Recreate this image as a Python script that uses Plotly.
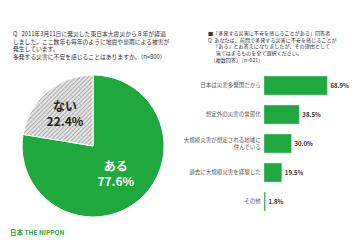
import plotly.graph_objects as go

pie_labels = ["ある", "ない"]
pie_values = [77.6, 22.4]

bar_categories = ["日本は災害多発国だから", "想定外の災害の常態化", "大規模災害が想定される地域に<br>住んでいる",
                  "過去に大規模災害を経験した", "その他"]
bar_values = [68.9, 38.5, 30.0, 19.5, 1.8]

left_lines = ["Q\u2002 2011年3月11日に発災した東日本大震災から８年が経過",
              "しました。ここ数年も毎年のように地震や豪雨による被害が",
              "発生しています。",
              "多発する災害に不安を感じることはありますか。（n=800）"]
right_lines = ["■「多発する災害に不安を感じることがある」回答者",
               "Q\u2002あなたは、前問で多発する災害に不安を感じることが",
               "\u2002\u2002「ある」とお答えになりましたが、その理由として",
               "\u2002\u2002\u2002当てはまるものを全て選択ください。",
               "\u2002（複数回答）（n=621）"]

GREEN = "#1fa83e"
FONT = "Noto Sans CJK JP"

fig = go.Figure()

fig.add_trace(go.Pie(
    labels=pie_labels, values=pie_values, sort=False, direction="clockwise", rotation=0,
    domain=dict(x=[0.061, 0.456], y=[0.096, 0.6875]),
    marker=dict(colors=[GREEN, "#e4e4e4"], line=dict(color="white", width=1),
                pattern=dict(shape=["", "/"], fgcolor="#9a9a9a", bgcolor="#e8e8e8", size=3, solidity=0.3)),
    text=[f"{l}<br>{v:.1f}%" for l, v in zip(pie_labels, pie_values)],
    textinfo="text", textposition="inside", insidetextorientation="horizontal",
    insidetextfont=dict(family=FONT, size=12, color=["white", "#222222"], weight="bold"),
    hoverinfo="skip", showlegend=False,
))

fig.add_trace(go.Bar(
    x=bar_values, y=bar_categories, orientation="h", marker=dict(color=GREEN),
    text=[f"{v:.1f}%" for v in bar_values], textposition="outside", cliponaxis=False,
    textfont=dict(family=FONT, size=6, color="#333333", weight="bold"),
    xaxis="x", yaxis="y", showlegend=False,
))

annotations = [
    dict(text="<br>".join(left_lines), x=12/360, y=1-28/240, xref="paper", yref="paper",
         xanchor="left", yanchor="top", align="left", showarrow=False, borderpad=0,
         font=dict(family=FONT, size=5.8, color="#333333")),
    dict(text="<br>".join(right_lines), x=207/360, y=1-28/240, xref="paper", yref="paper",
         xanchor="left", yanchor="top", align="left", showarrow=False, borderpad=0,
         font=dict(family=FONT, size=5.1, color="#333333")),
    dict(text="<b>日本 THE NIPPON</b>", x=8/360, y=1-232/240, xref="paper", yref="paper",
         xanchor="left", yanchor="middle", showarrow=False,
         font=dict(family=FONT, size=6.5, color=GREEN)),
]

fig.update_layout(
    width=360, height=240, margin=dict(l=0, r=0, t=0, b=0),
    paper_bgcolor="white", plot_bgcolor="white",
    bargap=0.34,
    xaxis=dict(domain=[0.733, 0.989], range=[0, 100], visible=False),
    yaxis=dict(domain=[0.1, 0.704], autorange="reversed", showgrid=False, zeroline=False,
               showline=False, ticks="", ticklabelstandoff=2,
               tickfont=dict(family=FONT, size=5.5, color="#555555")),
    annotations=annotations,
)

fig.write_html("out.html")
